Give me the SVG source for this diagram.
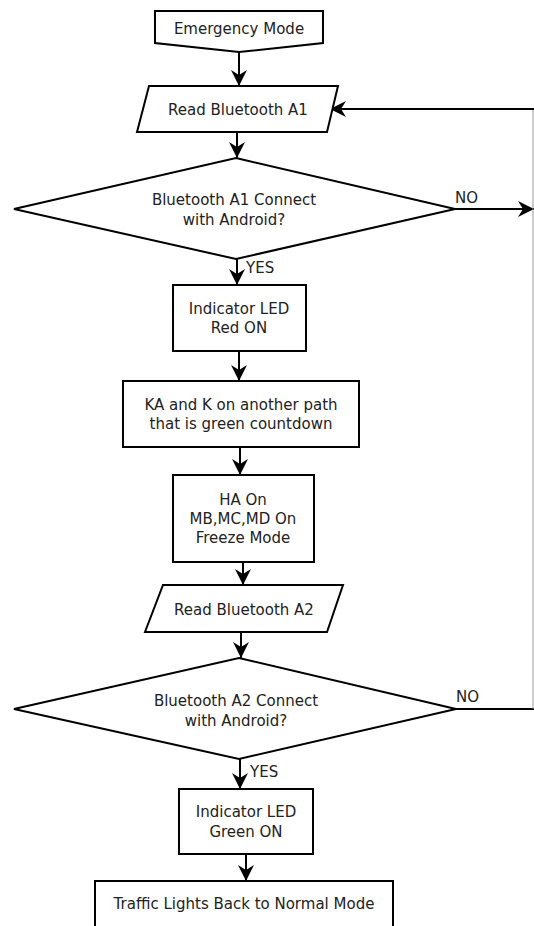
<svg xmlns="http://www.w3.org/2000/svg" width="534" height="926" viewBox="0 0 534 926">
<style>
.s{fill:#fff;stroke:#000;stroke-width:2}
.t{font-family:"DejaVu Sans",Verdana,sans-serif;font-size:15px;fill:#222;text-anchor:middle}
.l{font-family:"DejaVu Sans",Verdana,sans-serif;font-size:15px;fill:#222}
.c{fill:none;stroke:#000;stroke-width:2}
</style>
<defs>
<marker id="ah" markerUnits="userSpaceOnUse" markerWidth="18" markerHeight="18" refX="16" refY="8" orient="auto">
<path d="M0,0 L16,8 L0,16 L5,8 z" fill="#000"/>
</marker>
</defs>
<rect width="534" height="926" fill="#fff"/>
<g id="connectors">
<line class="c" x1="239" y1="52" x2="239" y2="86" marker-end="url(#ah)"/>
<line class="c" x1="237" y1="132" x2="237" y2="158" marker-end="url(#ah)"/>
<line class="c" x1="237" y1="259" x2="237" y2="285" marker-end="url(#ah)"/>
<line class="c" x1="239" y1="351" x2="239" y2="381" marker-end="url(#ah)"/>
<line class="c" x1="240" y1="447" x2="240" y2="475" marker-end="url(#ah)"/>
<line class="c" x1="243" y1="562" x2="243" y2="585" marker-end="url(#ah)"/>
<line class="c" x1="241" y1="632" x2="241" y2="658" marker-end="url(#ah)"/>
<line class="c" x1="240" y1="759" x2="240" y2="789" marker-end="url(#ah)"/>
<line class="c" x1="246" y1="854" x2="246" y2="881" marker-end="url(#ah)"/>
<line class="c" x1="455" y1="209" x2="534" y2="209" marker-end="url(#ah)"/>
<polyline class="c" points="456,709 534,709"/>
<line x1="533" y1="109" x2="533" y2="709" stroke="#999" stroke-width="1"/>
<line class="c" x1="534" y1="109" x2="330" y2="109" marker-end="url(#ah)"/>
<text class="l" x="455" y="203">NO</text>
<text class="l" x="246" y="273">YES</text>
<text class="l" x="456" y="702">NO</text>
<text class="l" x="250" y="777">YES</text>
</g>
<g id="emergency">
<polygon class="s" points="155,11 323,11 323,43 239,52 155,43"/>
<text class="t" x="239" y="34">Emergency Mode</text>
</g>
<g id="readA1">
<polygon class="s" points="149,86 338,86 327,132 137,132"/>
<text class="t" x="238" y="115">Read Bluetooth A1</text>
</g>
<g id="decisionA1">
<polygon class="s" points="236,158 455,209 236,259 14,209"/>
<text class="t" x="234" y="205">Bluetooth A1 Connect</text>
<text class="t" x="234" y="225">with Android?</text>
</g>
<g id="ledRed">
<rect class="s" x="173" y="285" width="133" height="66"/>
<text class="t" x="239" y="314">Indicator LED</text>
<text class="t" x="239" y="333">Red ON</text>
</g>
<g id="kaK">
<rect class="s" x="123" y="381" width="236" height="66"/>
<text class="t" x="241" y="410">KA and K on another path</text>
<text class="t" x="241" y="429">that is green countdown</text>
</g>
<g id="haOn">
<rect class="s" x="173" y="475" width="141" height="87"/>
<text class="t" x="243" y="505">HA On</text>
<text class="t" x="243" y="524">MB,MC,MD On</text>
<text class="t" x="243" y="543">Freeze Mode</text>
</g>
<g id="readA2">
<polygon class="s" points="163,585 343,585 327,632 145,632"/>
<text class="t" x="244" y="615">Read Bluetooth A2</text>
</g>
<g id="decisionA2">
<polygon class="s" points="239,658 456,709 239,759 14,709"/>
<text class="t" x="236" y="706">Bluetooth A2 Connect</text>
<text class="t" x="236" y="726">with Android?</text>
</g>
<g id="ledGreen">
<rect class="s" x="179" y="789" width="134" height="65"/>
<text class="t" x="246" y="817">Indicator LED</text>
<text class="t" x="246" y="837">Green ON</text>
</g>
<g id="normal">
<rect class="s" x="95" y="881" width="298" height="46"/>
<text class="t" x="244" y="909">Traffic Lights Back to Normal Mode</text>
</g>
</svg>
